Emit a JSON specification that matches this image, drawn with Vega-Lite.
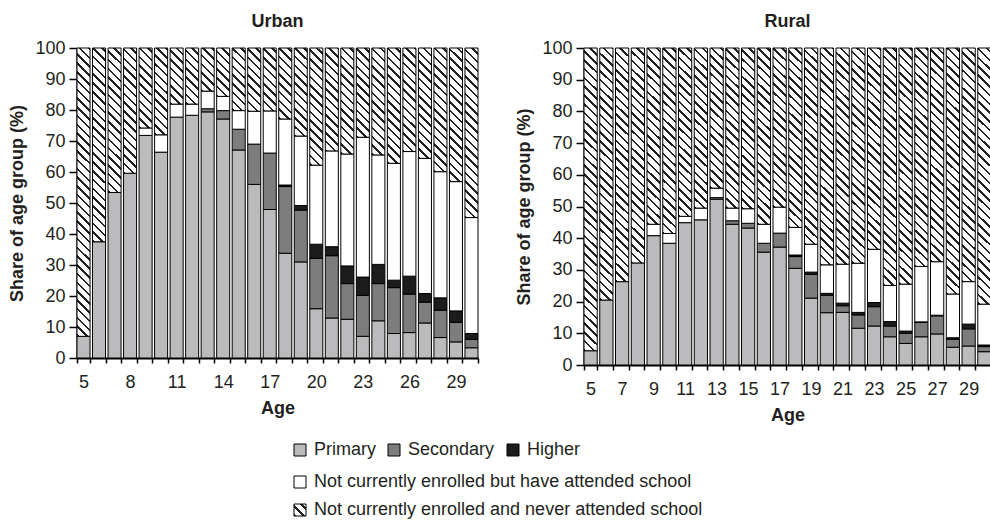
{
  "$schema": "https://vega.github.io/schema/vega-lite/v6.json",
  "padding": {"left": 8, "top": 13, "right": 0, "bottom": 0},
  "params": [
    {"name": "hatchStops", "value": [
      {"offset":0,"color":"#222"},{"offset":0.0072,"color":"#222"},{"offset":0.0072,"color":"#fff"},{"offset":0.025,"color":"#fff"},
      {"offset":0.025,"color":"#222"},{"offset":0.0322,"color":"#222"},{"offset":0.0322,"color":"#fff"},{"offset":0.05,"color":"#fff"},
      {"offset":0.05,"color":"#222"},{"offset":0.0572,"color":"#222"},{"offset":0.0572,"color":"#fff"},{"offset":0.075,"color":"#fff"},
      {"offset":0.075,"color":"#222"},{"offset":0.0822,"color":"#222"},{"offset":0.0822,"color":"#fff"},{"offset":0.1,"color":"#fff"},
      {"offset":0.1,"color":"#222"},{"offset":0.1072,"color":"#222"},{"offset":0.1072,"color":"#fff"},{"offset":0.125,"color":"#fff"},
      {"offset":0.125,"color":"#222"},{"offset":0.1322,"color":"#222"},{"offset":0.1322,"color":"#fff"},{"offset":0.15,"color":"#fff"},
      {"offset":0.15,"color":"#222"},{"offset":0.1572,"color":"#222"},{"offset":0.1572,"color":"#fff"},{"offset":0.175,"color":"#fff"},
      {"offset":0.175,"color":"#222"},{"offset":0.1822,"color":"#222"},{"offset":0.1822,"color":"#fff"},{"offset":0.2,"color":"#fff"},
      {"offset":0.2,"color":"#222"},{"offset":0.2072,"color":"#222"},{"offset":0.2072,"color":"#fff"},{"offset":0.225,"color":"#fff"},
      {"offset":0.225,"color":"#222"},{"offset":0.2322,"color":"#222"},{"offset":0.2322,"color":"#fff"},{"offset":0.25,"color":"#fff"},
      {"offset":0.25,"color":"#222"},{"offset":0.2572,"color":"#222"},{"offset":0.2572,"color":"#fff"},{"offset":0.275,"color":"#fff"},
      {"offset":0.275,"color":"#222"},{"offset":0.2822,"color":"#222"},{"offset":0.2822,"color":"#fff"},{"offset":0.3,"color":"#fff"},
      {"offset":0.3,"color":"#222"},{"offset":0.3072,"color":"#222"},{"offset":0.3072,"color":"#fff"},{"offset":0.325,"color":"#fff"},
      {"offset":0.325,"color":"#222"},{"offset":0.3322,"color":"#222"},{"offset":0.3322,"color":"#fff"},{"offset":0.35,"color":"#fff"},
      {"offset":0.35,"color":"#222"},{"offset":0.3572,"color":"#222"},{"offset":0.3572,"color":"#fff"},{"offset":0.375,"color":"#fff"},
      {"offset":0.375,"color":"#222"},{"offset":0.3822,"color":"#222"},{"offset":0.3822,"color":"#fff"},{"offset":0.4,"color":"#fff"},
      {"offset":0.4,"color":"#222"},{"offset":0.4072,"color":"#222"},{"offset":0.4072,"color":"#fff"},{"offset":0.425,"color":"#fff"},
      {"offset":0.425,"color":"#222"},{"offset":0.4322,"color":"#222"},{"offset":0.4322,"color":"#fff"},{"offset":0.45,"color":"#fff"},
      {"offset":0.45,"color":"#222"},{"offset":0.4572,"color":"#222"},{"offset":0.4572,"color":"#fff"},{"offset":0.475,"color":"#fff"},
      {"offset":0.475,"color":"#222"},{"offset":0.4822,"color":"#222"},{"offset":0.4822,"color":"#fff"},{"offset":0.5,"color":"#fff"},
      {"offset":0.5,"color":"#222"},{"offset":0.5072,"color":"#222"},{"offset":0.5072,"color":"#fff"},{"offset":0.525,"color":"#fff"},
      {"offset":0.525,"color":"#222"},{"offset":0.5322,"color":"#222"},{"offset":0.5322,"color":"#fff"},{"offset":0.55,"color":"#fff"},
      {"offset":0.55,"color":"#222"},{"offset":0.5572,"color":"#222"},{"offset":0.5572,"color":"#fff"},{"offset":0.575,"color":"#fff"},
      {"offset":0.575,"color":"#222"},{"offset":0.5822,"color":"#222"},{"offset":0.5822,"color":"#fff"},{"offset":0.6,"color":"#fff"},
      {"offset":0.6,"color":"#222"},{"offset":0.6072,"color":"#222"},{"offset":0.6072,"color":"#fff"},{"offset":0.625,"color":"#fff"},
      {"offset":0.625,"color":"#222"},{"offset":0.6322,"color":"#222"},{"offset":0.6322,"color":"#fff"},{"offset":0.65,"color":"#fff"},
      {"offset":0.65,"color":"#222"},{"offset":0.6572,"color":"#222"},{"offset":0.6572,"color":"#fff"},{"offset":0.675,"color":"#fff"},
      {"offset":0.675,"color":"#222"},{"offset":0.6822,"color":"#222"},{"offset":0.6822,"color":"#fff"},{"offset":0.7,"color":"#fff"},
      {"offset":0.7,"color":"#222"},{"offset":0.7072,"color":"#222"},{"offset":0.7072,"color":"#fff"},{"offset":0.725,"color":"#fff"},
      {"offset":0.725,"color":"#222"},{"offset":0.7322,"color":"#222"},{"offset":0.7322,"color":"#fff"},{"offset":0.75,"color":"#fff"},
      {"offset":0.75,"color":"#222"},{"offset":0.7572,"color":"#222"},{"offset":0.7572,"color":"#fff"},{"offset":0.775,"color":"#fff"},
      {"offset":0.775,"color":"#222"},{"offset":0.7822,"color":"#222"},{"offset":0.7822,"color":"#fff"},{"offset":0.8,"color":"#fff"},
      {"offset":0.8,"color":"#222"},{"offset":0.8072,"color":"#222"},{"offset":0.8072,"color":"#fff"},{"offset":0.825,"color":"#fff"},
      {"offset":0.825,"color":"#222"},{"offset":0.8322,"color":"#222"},{"offset":0.8322,"color":"#fff"},{"offset":0.85,"color":"#fff"},
      {"offset":0.85,"color":"#222"},{"offset":0.8572,"color":"#222"},{"offset":0.8572,"color":"#fff"},{"offset":0.875,"color":"#fff"},
      {"offset":0.875,"color":"#222"},{"offset":0.8822,"color":"#222"},{"offset":0.8822,"color":"#fff"},{"offset":0.9,"color":"#fff"},
      {"offset":0.9,"color":"#222"},{"offset":0.9072,"color":"#222"},{"offset":0.9072,"color":"#fff"},{"offset":0.925,"color":"#fff"},
      {"offset":0.925,"color":"#222"},{"offset":0.9322,"color":"#222"},{"offset":0.9322,"color":"#fff"},{"offset":0.95,"color":"#fff"},
      {"offset":0.95,"color":"#222"},{"offset":0.9572,"color":"#222"},{"offset":0.9572,"color":"#fff"},{"offset":0.975,"color":"#fff"},
      {"offset":0.975,"color":"#222"},{"offset":0.9822,"color":"#222"},{"offset":0.9822,"color":"#fff"},{"offset":1,"color":"#fff"}
    ]}
  ],
  "config": {
    "font": "Liberation Sans",
    "view": {"stroke": null},
    "axis": {
      "domainColor": "black", "domainWidth": 2, "tickColor": "black", "tickWidth": 1.5,
      "labelFontSize": 18, "labelColor": "#231f20", "titleFontSize": 18, "titleFontWeight": "bold",
      "titleColor": "#231f20", "grid": false
    },
    "axisY": {"tickSize": 8, "labelPadding": 4, "titlePadding": 8},
    "axisX": {"tickSize": 5, "labelPadding": 10, "titlePadding": 8, "labelAngle": 0, "tickBand": "extent"},
    "title": {"fontSize": 18, "fontWeight": "bold", "color": "#231f20", "offset": 8, "baseline": "bottom", "anchor": "middle"},
    "legend": {"labelFontSize": 18, "labelColor": "#231f20", "padding": 0}
  },
  "datasets": {
    "rows": [
      {"area":"Urban","age":5,"Primary":7,"Secondary":0,"Higher":0,"Attended":0,"Never":93},
      {"area":"Urban","age":6,"Primary":37.5,"Secondary":0,"Higher":0,"Attended":0,"Never":62.5},
      {"area":"Urban","age":7,"Primary":53.4,"Secondary":0,"Higher":0,"Attended":0,"Never":46.6},
      {"area":"Urban","age":8,"Primary":59.6,"Secondary":0,"Higher":0,"Attended":0,"Never":40.4},
      {"area":"Urban","age":9,"Primary":71.8,"Secondary":0,"Higher":0,"Attended":2.4,"Never":25.8},
      {"area":"Urban","age":10,"Primary":66.4,"Secondary":0,"Higher":0,"Attended":5.6,"Never":28},
      {"area":"Urban","age":11,"Primary":77.7,"Secondary":0,"Higher":0,"Attended":4.2,"Never":18.1},
      {"area":"Urban","age":12,"Primary":78.3,"Secondary":0,"Higher":0,"Attended":3.6,"Never":18.1},
      {"area":"Urban","age":13,"Primary":79.4,"Secondary":1.0,"Higher":0,"Attended":5.7,"Never":13.9},
      {"area":"Urban","age":14,"Primary":77.1,"Secondary":2.7,"Higher":0,"Attended":4.6,"Never":15.6},
      {"area":"Urban","age":15,"Primary":67.1,"Secondary":6.7,"Higher":0,"Attended":6.0,"Never":20.2},
      {"area":"Urban","age":16,"Primary":56.0,"Secondary":13.0,"Higher":0,"Attended":10.6,"Never":20.4},
      {"area":"Urban","age":17,"Primary":47.9,"Secondary":18.2,"Higher":0,"Attended":13.6,"Never":20.3},
      {"area":"Urban","age":18,"Primary":33.8,"Secondary":21.5,"Higher":0.5,"Attended":21.3,"Never":22.9},
      {"area":"Urban","age":19,"Primary":31.0,"Secondary":16.7,"Higher":1.5,"Attended":22.4,"Never":28.4},
      {"area":"Urban","age":20,"Primary":15.9,"Secondary":16.2,"Higher":4.6,"Attended":25.5,"Never":37.8},
      {"area":"Urban","age":21,"Primary":12.9,"Secondary":20.1,"Higher":2.9,"Attended":30.9,"Never":33.2},
      {"area":"Urban","age":22,"Primary":12.5,"Secondary":11.5,"Higher":5.7,"Attended":36.1,"Never":34.2},
      {"area":"Urban","age":23,"Primary":7.0,"Secondary":13.2,"Higher":5.9,"Attended":45.1,"Never":28.8},
      {"area":"Urban","age":24,"Primary":12.0,"Secondary":12.0,"Higher":6.2,"Attended":35.3,"Never":34.5},
      {"area":"Urban","age":25,"Primary":7.9,"Secondary":14.8,"Higher":2.4,"Attended":37.7,"Never":37.2},
      {"area":"Urban","age":26,"Primary":8.2,"Secondary":12.4,"Higher":5.8,"Attended":40.2,"Never":33.4},
      {"area":"Urban","age":27,"Primary":11.3,"Secondary":6.7,"Higher":2.8,"Attended":43.6,"Never":35.6},
      {"area":"Urban","age":28,"Primary":6.6,"Secondary":8.8,"Higher":4.0,"Attended":40.7,"Never":39.9},
      {"area":"Urban","age":29,"Primary":5.2,"Secondary":6.3,"Higher":3.7,"Attended":41.7,"Never":43.1},
      {"area":"Urban","age":30,"Primary":3.3,"Secondary":2.7,"Higher":1.9,"Attended":37.4,"Never":54.7},
      {"area":"Rural","age":5,"Primary":4.5,"Secondary":0,"Higher":0,"Attended":0,"Never":95.5},
      {"area":"Rural","age":6,"Primary":20.5,"Secondary":0,"Higher":0,"Attended":0,"Never":79.5},
      {"area":"Rural","age":7,"Primary":26.3,"Secondary":0,"Higher":0,"Attended":0,"Never":73.7},
      {"area":"Rural","age":8,"Primary":32.2,"Secondary":0,"Higher":0,"Attended":0,"Never":67.8},
      {"area":"Rural","age":9,"Primary":40.8,"Secondary":0,"Higher":0,"Attended":3.6,"Never":55.6},
      {"area":"Rural","age":10,"Primary":38.4,"Secondary":0,"Higher":0,"Attended":3.1,"Never":58.5},
      {"area":"Rural","age":11,"Primary":44.9,"Secondary":0,"Higher":0,"Attended":2.0,"Never":53.1},
      {"area":"Rural","age":12,"Primary":45.8,"Secondary":0,"Higher":0,"Attended":3.7,"Never":50.5},
      {"area":"Rural","age":13,"Primary":52.3,"Secondary":0.5,"Higher":0,"Attended":3.0,"Never":44.2},
      {"area":"Rural","age":14,"Primary":44.4,"Secondary":1.1,"Higher":0,"Attended":4.0,"Never":50.5},
      {"area":"Rural","age":15,"Primary":43.2,"Secondary":1.5,"Higher":0,"Attended":4.6,"Never":50.7},
      {"area":"Rural","age":16,"Primary":35.6,"Secondary":2.8,"Higher":0,"Attended":6.0,"Never":55.6},
      {"area":"Rural","age":17,"Primary":37.2,"Secondary":4.4,"Higher":0,"Attended":8.2,"Never":50.2},
      {"area":"Rural","age":18,"Primary":30.5,"Secondary":3.7,"Higher":0.5,"Attended":8.7,"Never":56.6},
      {"area":"Rural","age":19,"Primary":21.1,"Secondary":7.5,"Higher":0.7,"Attended":8.8,"Never":61.9},
      {"area":"Rural","age":20,"Primary":16.5,"Secondary":5.5,"Higher":0.6,"Attended":9.0,"Never":68.4},
      {"area":"Rural","age":21,"Primary":16.6,"Secondary":2.1,"Higher":0.8,"Attended":12.3,"Never":68.2},
      {"area":"Rural","age":22,"Primary":11.6,"Secondary":4.2,"Higher":0.8,"Attended":15.5,"Never":67.9},
      {"area":"Rural","age":23,"Primary":12.3,"Secondary":6.1,"Higher":1.3,"Attended":16.8,"Never":63.5},
      {"area":"Rural","age":24,"Primary":8.9,"Secondary":3.4,"Higher":1.4,"Attended":11.4,"Never":74.9},
      {"area":"Rural","age":25,"Primary":6.8,"Secondary":3.2,"Higher":0.7,"Attended":14.8,"Never":74.5},
      {"area":"Rural","age":26,"Primary":8.9,"Secondary":4.5,"Higher":0.2,"Attended":17.5,"Never":68.9},
      {"area":"Rural","age":27,"Primary":9.8,"Secondary":5.7,"Higher":0.2,"Attended":16.9,"Never":67.4},
      {"area":"Rural","age":28,"Primary":5.6,"Secondary":2.5,"Higher":0.5,"Attended":13.8,"Never":77.6},
      {"area":"Rural","age":29,"Primary":6.0,"Secondary":5.4,"Higher":1.5,"Attended":13.4,"Never":73.7},
      {"area":"Rural","age":30,"Primary":4.2,"Secondary":1.6,"Higher":0.5,"Attended":12.9,"Never":80.8}
    ]
  },
  "data": {"name": "rows"},
  "transform": [
    {"fold": ["Primary", "Secondary", "Higher", "Attended", "Never"], "as": ["key", "value"]},
    {"filter": "datum.value > 0"},
    {"stack": "value", "groupby": ["area", "age"], "as": ["v0", "v1"]}
  ],
  "spacing": 36,
  "resolve": {"scale": {"x": "independent", "y": "independent", "color": "shared", "fill": "shared"}},
  "hconcat": [
    {
      "title": "Urban",
      "width": 401,
      "height": 310,
      "transform": [{"filter": "datum.area === 'Urban'"}],
      "encoding": {
        "x": {"field": "age", "type": "ordinal", "scale": {"paddingInner": 0.16, "paddingOuter": 0},
              "axis": {"title": "Age", "labelExpr": "(datum.value - 5) % 3 === 0 ? datum.label : ''"}},
        "y": {"field": "v0", "type": "quantitative", "scale": {"domain": [0, 100], "nice": false},
              "axis": {"title": "Share of age group (%)", "values": [0,10,20,30,40,50,60,70,80,90,100]}},
        "y2": {"field": "v1"}
      },
      "layer": [
        {
          "transform": [{"filter": {"field": "key", "oneOf": ["Primary", "Secondary", "Higher"]}}],
          "mark": {"type": "bar", "stroke": "black", "strokeWidth": 1},
          "encoding": {
            "color": {"field": "key", "type": "nominal",
              "scale": {"domain": ["Primary", "Secondary", "Higher"], "range": ["#bbbbbd", "#7d7d7d", "#1c1c1c"]},
              "legend": {"title": null, "orient": "none", "legendX": 214, "legendY": 393, "direction": "horizontal",
                "symbolType": "square", "symbolSize": 144, "symbolStrokeColor": "black", "symbolStrokeWidth": 1,
                "columnPadding": 9, "labelOffset": 5, "labelLimit": 500}}
          }
        },
        {
          "transform": [{"filter": {"field": "key", "oneOf": ["Attended", "Never"]}}],
          "mark": {"type": "bar", "stroke": "black", "strokeWidth": 1},
          "encoding": {
            "fill": {
              "condition": {"test": "datum.key === 'Never'", "value": {"expr": "{gradient: 'linear', x1: 0, y1: 1, x2: 13 * 351 / (169 + pow((datum.v1 - datum.v0) * 3.1, 2)), y2: 1 - (datum.v1 - datum.v0) * 3.1 * 351 / (169 + pow((datum.v1 - datum.v0) * 3.1, 2)), stops: hatchStops}"}},
              "field": "key", "type": "nominal",
              "scale": {"domain": ["Attended", "Never"], "range": ["white", {"expr": "{gradient: 'linear', x1: 0, y1: 1, x2: 14.6, y2: -13.6, stops: hatchStops}"}]},
              "legend": {"title": null, "orient": "none", "legendX": 214, "legendY": 425, "direction": "vertical",
                "symbolType": "square", "symbolSize": 144, "symbolStrokeColor": "black", "symbolStrokeWidth": 1,
                "rowPadding": 10, "labelOffset": 5, "labelLimit": 500,
                "labelExpr": "datum.value === 'Never' ? 'Not currently enrolled and never attended school' : 'Not currently enrolled but have attended school'",
                "encode": {"symbols": {"update": {
                  "stroke": {"value": "black"}, "strokeWidth": {"value": 1}, "opacity": {"value": 1}, "fillOpacity": {"value": 1}}}}}
            }
          }
        }
      ]
    },
    {
      "title": "Rural",
      "width": 407,
      "height": 317,
      "transform": [{"filter": "datum.area === 'Rural'"}],
      "encoding": {
        "x": {"field": "age", "type": "ordinal", "scale": {"paddingInner": 0.16, "paddingOuter": 0},
              "axis": {"title": "Age", "labelExpr": "(datum.value - 5) % 2 === 0 ? datum.label : ''"}},
        "y": {"field": "v0", "type": "quantitative", "scale": {"domain": [0, 100], "nice": false},
              "axis": {"title": "Share of age group (%)", "values": [0,10,20,30,40,50,60,70,80,90,100]}},
        "y2": {"field": "v1"}
      },
      "layer": [
        {
          "transform": [{"filter": {"field": "key", "oneOf": ["Primary", "Secondary", "Higher"]}}],
          "mark": {"type": "bar", "stroke": "black", "strokeWidth": 1},
          "encoding": {
            "color": {"field": "key", "type": "nominal",
              "scale": {"domain": ["Primary", "Secondary", "Higher"], "range": ["#bbbbbd", "#7d7d7d", "#1c1c1c"]},
              "legend": {"title": null, "orient": "none", "legendX": 214, "legendY": 393, "direction": "horizontal",
                "symbolType": "square", "symbolSize": 144, "symbolStrokeColor": "black", "symbolStrokeWidth": 1,
                "columnPadding": 9, "labelOffset": 5, "labelLimit": 500}}
          }
        },
        {
          "transform": [{"filter": {"field": "key", "oneOf": ["Attended", "Never"]}}],
          "mark": {"type": "bar", "stroke": "black", "strokeWidth": 1},
          "encoding": {
            "fill": {
              "condition": {"test": "datum.key === 'Never'", "value": {"expr": "{gradient: 'linear', x1: 0, y1: 1, x2: 13 * 351 / (169 + pow((datum.v1 - datum.v0) * 3.17, 2)), y2: 1 - (datum.v1 - datum.v0) * 3.17 * 351 / (169 + pow((datum.v1 - datum.v0) * 3.17, 2)), stops: hatchStops}"}},
              "field": "key", "type": "nominal",
              "scale": {"domain": ["Attended", "Never"], "range": ["white", {"expr": "{gradient: 'linear', x1: 0, y1: 1, x2: 14.6, y2: -13.6, stops: hatchStops}"}]},
              "legend": {"title": null, "orient": "none", "legendX": 214, "legendY": 425, "direction": "vertical",
                "symbolType": "square", "symbolSize": 144, "symbolStrokeColor": "black", "symbolStrokeWidth": 1,
                "rowPadding": 10, "labelOffset": 5, "labelLimit": 500,
                "labelExpr": "datum.value === 'Never' ? 'Not currently enrolled and never attended school' : 'Not currently enrolled but have attended school'",
                "encode": {"symbols": {"update": {
                  "stroke": {"value": "black"}, "strokeWidth": {"value": 1}, "opacity": {"value": 1}, "fillOpacity": {"value": 1}}}}}
            }
          }
        }
      ]
    }
  ]
}
